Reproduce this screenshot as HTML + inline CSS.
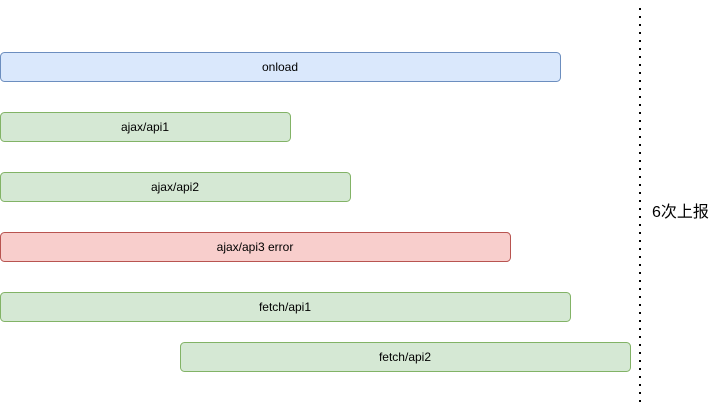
<!DOCTYPE html>
<html><head><meta charset="utf-8"><style>
html,body{margin:0;padding:0;background:#fff;}
svg{display:block}
text{font-family:"Liberation Sans","Noto Sans CJK SC",sans-serif;font-size:12px;fill:#000;}
</style></head><body>
<svg width="716" height="403" viewBox="0 0 716 403" xmlns="http://www.w3.org/2000/svg">
<rect x="0.5" y="52.5" width="560" height="29" rx="4" fill="#dae8fc" stroke="#6c8ebf"/>
<text x="280" y="71" text-anchor="middle">onload</text>
<rect x="0.5" y="112.5" width="290" height="29" rx="4" fill="#d5e8d4" stroke="#82b366"/>
<text x="145" y="131" text-anchor="middle">ajax/api1</text>
<rect x="0.5" y="172.5" width="350" height="29" rx="4" fill="#d5e8d4" stroke="#82b366"/>
<text x="175" y="191" text-anchor="middle">ajax/api2</text>
<rect x="0.5" y="232.5" width="510" height="29" rx="4" fill="#f8cecc" stroke="#b85450"/>
<text x="255" y="251" text-anchor="middle">ajax/api3 error</text>
<rect x="0.5" y="292.5" width="570" height="29" rx="4" fill="#d5e8d4" stroke="#82b366"/>
<text x="285" y="311" text-anchor="middle">fetch/api1</text>
<rect x="180.5" y="342.5" width="450" height="29" rx="4" fill="#d5e8d4" stroke="#82b366"/>
<text x="405" y="361" text-anchor="middle">fetch/api2</text>
<line x1="640" y1="8" x2="640" y2="403" stroke="#000" stroke-width="2" stroke-dasharray="2 6"/>
<text x="652" y="217" style="font-size:16px">6次上报</text>
</svg>
</body></html>
